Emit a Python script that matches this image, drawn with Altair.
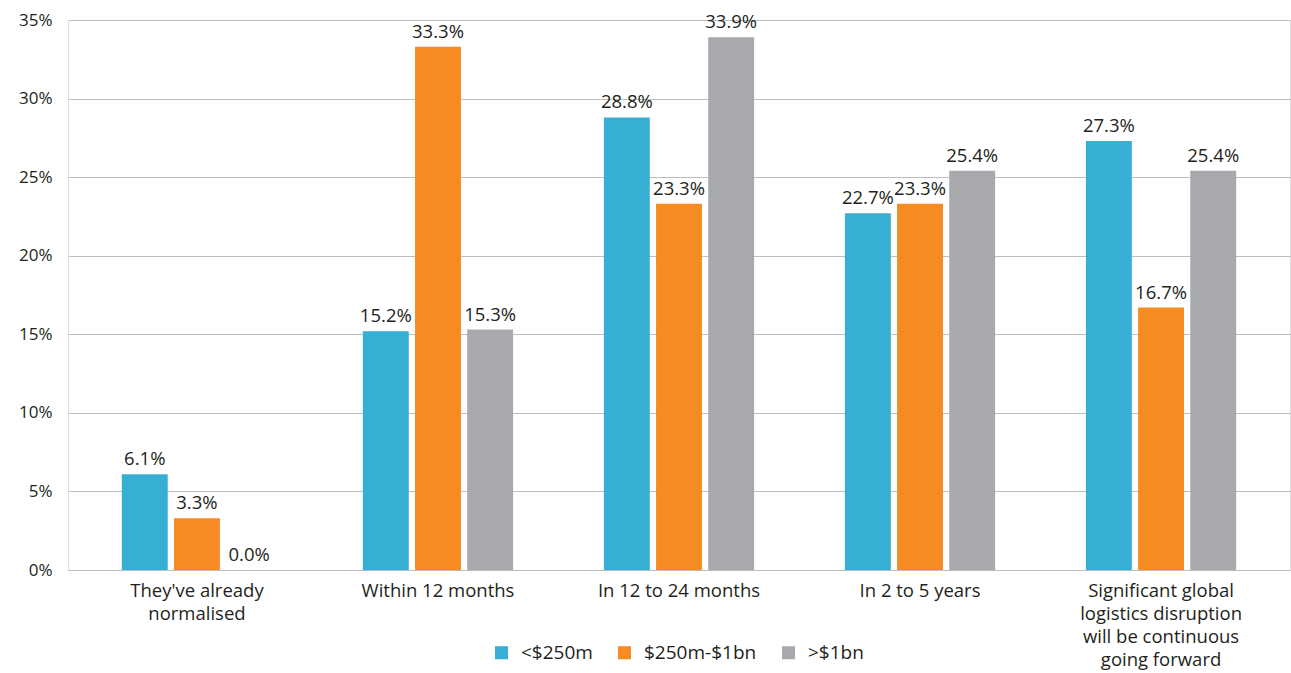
import altair as alt
import pandas as pd

# Expected timing for logistics normalisation, by company revenue band
categories = [
    "They've already\nnormalised",
    "Within 12 months",
    "In 12 to 24 months",
    "In 2 to 5 years",
    "Significant global\nlogistics disruption\nwill be continuous\ngoing forward",
]
bands = ["<$250m", "$250m-$1bn", ">$1bn"]
small = [6.1, 15.2, 28.8, 22.7, 27.3]
mid = [3.3, 33.3, 23.3, 23.3, 16.7]
large = [0.0, 15.3, 33.9, 25.4, 25.4]
colors = ["#37AED4", "#F68B23", "#A7A9AC"]

rows = []
for series, vals in zip(bands, [small, mid, large]):
    for cat, v in zip(categories, vals):
        rows.append({"category": cat, "band": series, "value": v / 100})
df = pd.DataFrame(rows)

FONT = "Open Sans"
TEXT = "#231F20"

x = alt.X(
    "category:N",
    sort=categories,
    scale=alt.Scale(paddingInner=0, paddingOuter=0.035),
    axis=alt.Axis(
        title=None,
        labelAngle=0,
        labelExpr="split(datum.label, '\\n')",
        labelFontSize=18.5,
        labelColor=TEXT,
        labelFont=FONT,
        labelLineHeight=23,
        labelPadding=11,
        domain=False,
        ticks=False,
    ),
)
xoff = alt.XOffset(
    "band:N", sort=bands, scale=alt.Scale(paddingInner=0.12, paddingOuter=0.87)
)
y = alt.Y(
    "value:Q",
    scale=alt.Scale(domain=[0, 0.35], nice=False),
    axis=alt.Axis(
        title=None,
        format=".0%",
        values=[0, 0.05, 0.10, 0.15, 0.20, 0.25, 0.30, 0.35],
        labelFontSize=17,
        labelColor=TEXT,
        labelFont=FONT,
        labelPadding=16,
        domain=False,
        ticks=False,
        gridColor="#BCBEC0",
        gridWidth=1,
    ),
)
color = alt.Color(
    "band:N",
    sort=bands,
    scale=alt.Scale(domain=bands, range=colors),
    legend=alt.Legend(
        title=None,
        orient="none",
        direction="horizontal",
        legendX=424,
        legendY=623,
        symbolType="square",
        symbolSize=170,
        symbolStrokeWidth=0,
        labelFontSize=19,
        labelFont=FONT,
        labelColor=TEXT,
        columnPadding=22,
        labelOffset=10,
    ),
)

base = alt.Chart(df).encode(x=x, xOffset=xoff, y=y)
bars = base.mark_bar().encode(color=color)
labels = base.mark_text(
    baseline="bottom", dy=-5, fontSize=18.5, font=FONT, color=TEXT
).encode(text=alt.Text("value:Q", format=".1%"))

chart = (
    (bars + labels)
    .properties(
        width=1222,
        height=550,
        autosize=alt.AutoSizeParams(type="none"),
        padding={"left": 68, "top": 20, "right": 1, "bottom": 103},
    )
    .configure_view(stroke=None)
    .configure(background="white")
)

chart.save("out.html", embed_options={"renderer": "svg", "actions": False})
